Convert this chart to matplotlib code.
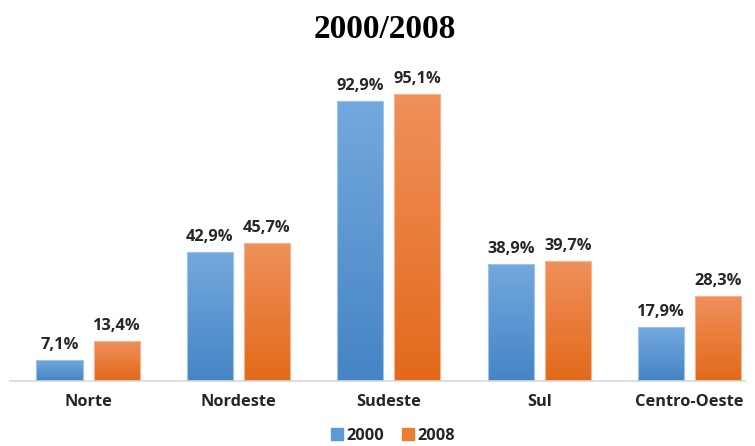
import matplotlib
matplotlib.use("Agg")
import matplotlib.pyplot as plt
import numpy as np
from matplotlib.colors import LinearSegmentedColormap
from matplotlib.lines import Line2D

categories = ["Norte", "Nordeste", "Sudeste", "Sul", "Centro-Oeste"]
values_2000 = [7.1, 42.9, 92.9, 38.9, 17.9]
values_2008 = [13.4, 45.7, 95.1, 39.7, 28.3]
labels_2000 = ["7,1%", "42,9%", "92,9%", "38,9%", "17,9%"]
labels_2008 = ["13,4%", "45,7%", "95,1%", "39,7%", "28,3%"]
series_names = ["2000", "2008"]
title = "2000/2008"

W, H = 755, 446
fig = plt.figure(figsize=(W / 100, H / 100), dpi=100)

FONT = "Open Sans"
FS = 11.8

px_per_cat = 150.4
left_px, right_px = 10, 745
base_y, top_y = 381, 60
ax = fig.add_axes([left_px / W, (H - base_y) / H, (right_px - left_px) / W, (base_y - top_y) / H])
x0 = -78 / px_per_cat
ax.set_xlim(x0, x0 + (right_px - left_px) / px_per_cat)
ax.set_ylim(0, (base_y - top_y) / 3.014)

bw = 46 / px_per_cat
off = 28.5 / px_per_cat
x = np.arange(len(categories))

blue_cmap = LinearSegmentedColormap.from_list("b", ["#4584C5", "#74A9DE"])
orange_cmap = LinearSegmentedColormap.from_list("o", ["#E2691A", "#F0905C"])

grad = np.linspace(0, 1, 256).reshape(-1, 1)

def draw(xs, vals, labels, cmap, edge):
    bars = ax.bar(xs, vals, width=bw, color="none", edgecolor=edge, linewidth=0.8, zorder=3)
    for b, lab in zip(bars, labels):
        bx, by = b.get_x(), b.get_y()
        w, h = b.get_width(), b.get_height()
        im = ax.imshow(grad, cmap=cmap, origin="lower", aspect="auto",
                       extent=[bx, bx + w, by, by + h], zorder=2)
        im.set_clip_path(b)
        ax.annotate(lab, (bx + w / 2, by + h), xytext=(0, 5), textcoords="offset points",
                    ha="center", va="bottom", fontsize=FS, fontweight="bold",
                    family=FONT, color="#262626")
    return bars

draw(x - off, values_2000, labels_2000, blue_cmap, "#9EC3E8")
draw(x + off, values_2008, labels_2008, orange_cmap, "#F5B48C")

for s in ["top", "right", "left"]:
    ax.spines[s].set_visible(False)
ax.spines["bottom"].set_color("#D9D9D9")
ax.spines["bottom"].set_linewidth(1.2)
ax.set_yticks([])
ax.set_xticks(x)
ax.set_xticklabels(categories, fontsize=FS, fontweight="bold", family=FONT, color="#262626")
ax.tick_params(axis="x", length=0, pad=9)
ax.set_aspect("auto")

fig.text(385 / W, 1 - 29 / H, title, ha="center", va="center", fontsize=24,
         fontweight="bold", family="Liberation Serif", color="black")

handles = [Line2D([], [], marker="s", linestyle="none", markersize=8, color="#5B9BD5"),
           Line2D([], [], marker="s", linestyle="none", markersize=8, color="#ED7D31")]
leg = fig.legend(handles, series_names, loc="center", bbox_to_anchor=(392 / W, 1 - 436 / H),
                 ncol=2, frameon=False, handletextpad=0.05, columnspacing=1.0,
                 prop={"family": FONT, "weight": "bold", "size": FS}, handlelength=1.0)
for t in leg.get_texts():
    t.set_color("#262626")

fig.savefig("out.png", dpi=100)
